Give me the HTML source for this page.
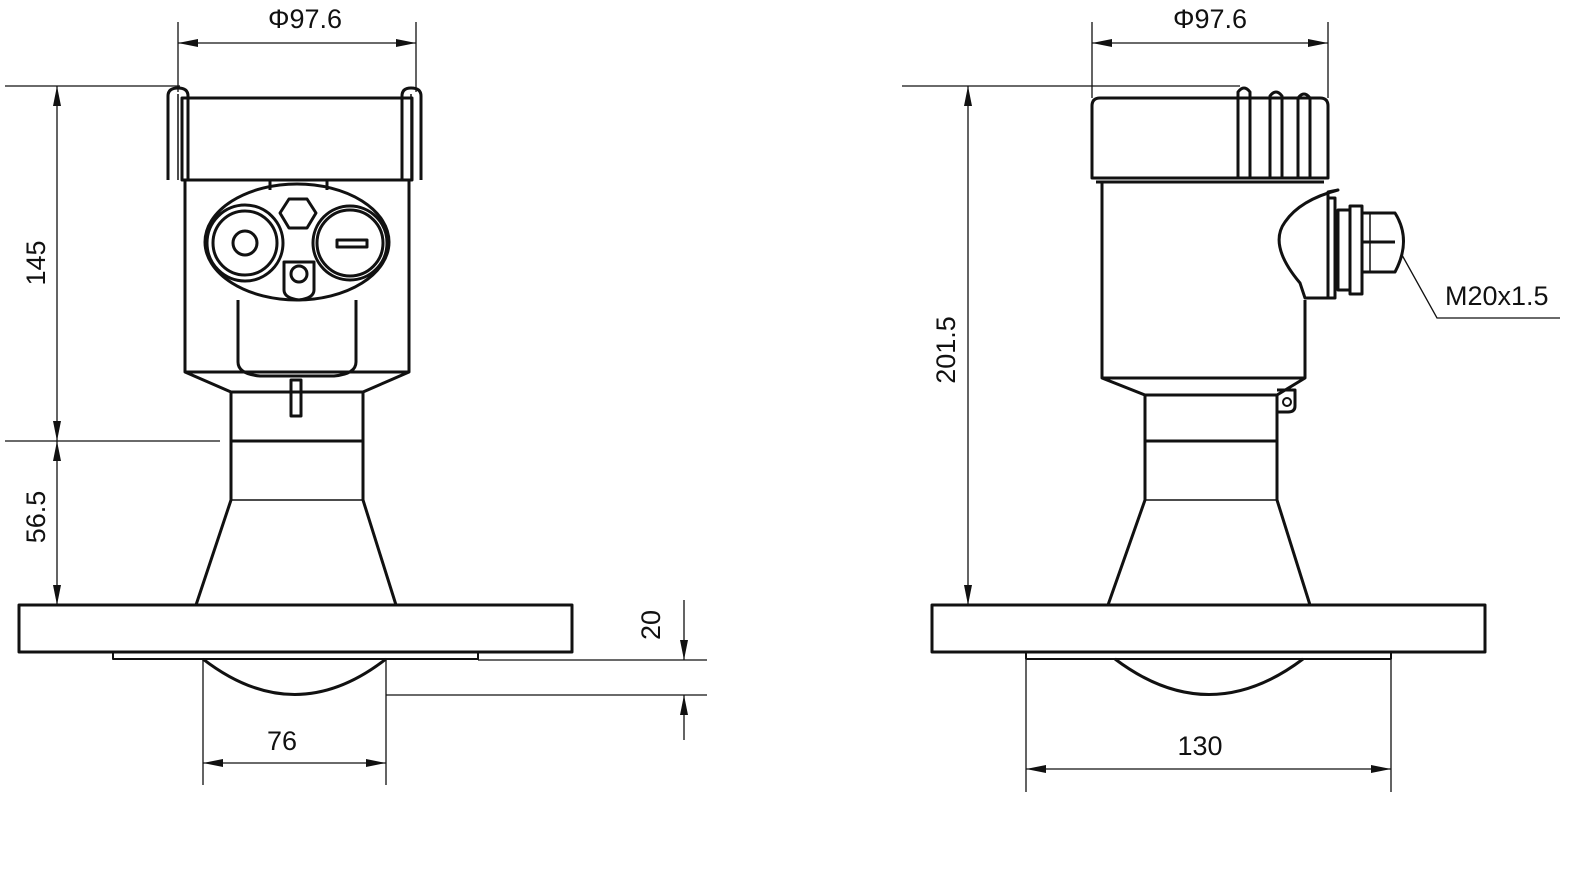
<!DOCTYPE html>
<html><head><meta charset="utf-8"><style>html,body{margin:0;padding:0;background:#fff}svg{display:block}text{font-family:"Liberation Sans",sans-serif;font-size:27px;fill:#111}</style></head>
<body>
<svg width="1586" height="872" viewBox="0 0 1586 872" xmlns="http://www.w3.org/2000/svg">
<defs>
<marker id="a" viewBox="0 0 20 8" refX="20" refY="4" markerWidth="20" markerHeight="8" orient="auto-start-reverse" markerUnits="userSpaceOnUse"><path d="M0,0 L20,4 L0,8 z" fill="#111"/></marker>
</defs>
<g fill="none" stroke="#111" stroke-width="1.3">
<line x1="178" y1="22" x2="178" y2="92"/><line x1="416" y1="22" x2="416" y2="92"/>
<line x1="178" y1="43" x2="416" y2="43" marker-start="url(#a)" marker-end="url(#a)"/>
<line x1="5" y1="86" x2="180" y2="86"/><line x1="5" y1="441" x2="220" y2="441"/>
<line x1="57" y1="86" x2="57" y2="441" marker-start="url(#a)" marker-end="url(#a)"/>
<line x1="57" y1="441" x2="57" y2="605" marker-start="url(#a)" marker-end="url(#a)"/>
<line x1="203" y1="660" x2="203" y2="785"/><line x1="386" y1="660" x2="386" y2="785"/>
<line x1="203" y1="763" x2="386" y2="763" marker-start="url(#a)" marker-end="url(#a)"/>
<line x1="478" y1="660" x2="707" y2="660"/><line x1="386" y1="695" x2="707" y2="695"/>
<line x1="684" y1="600" x2="684" y2="660" marker-end="url(#a)"/>
<line x1="684" y1="740" x2="684" y2="695" marker-end="url(#a)"/>
<line x1="1092" y1="22" x2="1092" y2="98"/><line x1="1328" y1="22" x2="1328" y2="98"/>
<line x1="1092" y1="43" x2="1328" y2="43" marker-start="url(#a)" marker-end="url(#a)"/>
<line x1="902" y1="86" x2="1240" y2="86"/>
<line x1="968" y1="86" x2="968" y2="605" marker-start="url(#a)" marker-end="url(#a)"/>
<line x1="1026" y1="660" x2="1026" y2="792"/><line x1="1391" y1="660" x2="1391" y2="792"/>
<line x1="1026" y1="769" x2="1391" y2="769" marker-start="url(#a)" marker-end="url(#a)"/>
<polyline points="1402,255 1437,318 1560,318"/>
</g>
<g fill="none" stroke="#111" stroke-width="3" stroke-linejoin="round">
<rect x="182" y="98" width="230" height="82"/>
<path d="M168,180 V96 Q168,88 178,88 Q188,88 188,96 V180"/>
<path d="M402,180 V96 Q402,88 411,88 Q421,88 421,96 V180"/>
<line x1="178" y1="94" x2="178" y2="180" stroke-width="1.5"/>
<line x1="411" y1="94" x2="411" y2="180" stroke-width="1.5"/>
<path d="M185,180 V372 L231,392 H363 L409,372 V180"/>
<line x1="185" y1="372" x2="409" y2="372"/>
<path d="M270,180 V190 M327,180 V190"/>
<ellipse cx="297" cy="242" rx="92" ry="58"/>
<circle cx="245" cy="243" r="38"/><circle cx="245" cy="243" r="32"/><circle cx="245" cy="243" r="12"/>
<circle cx="350" cy="243" r="37"/><circle cx="350" cy="243" r="33"/>
<rect x="337" y="240" width="30" height="7"/>
<polygon points="289,199 307,199 316,213 307,228 289,228 280,213"/>
<path d="M284,262 H314 V290 Q314,298 299,300 Q284,298 284,290 Z"/>
<circle cx="299" cy="274" r="8"/>
<path d="M238,300 V362 Q238,374 260,376 H334 Q356,374 356,362 V300"/>
<rect x="291" y="380" width="10" height="36"/>
<path d="M231,392 V500 L196,605 M363,392 V500 L396,605"/>
<line x1="231" y1="441" x2="363" y2="441"/>
<line x1="231" y1="500" x2="363" y2="500" stroke-width="1.5"/>
<rect x="19" y="605" width="553" height="47"/>
<rect x="113" y="652" width="365" height="7" stroke-width="2"/>
<path d="M203,659 Q295,730 386,659"/>
<path d="M1092,178 V106 Q1092,98 1100,98 H1320 Q1328,98 1328,106 V178 Z"/>
<path d="M1238,178 V92 Q1244,84 1250,92 V178"/>
<path d="M1270,178 V96 Q1276,88 1282,96 V178"/>
<path d="M1298,178 V98 Q1304,90 1310,98 V178"/>
<line x1="1096" y1="182" x2="1324" y2="182"/>
<path d="M1102,182 V378 L1145,395 H1277 L1305,378 V300"/>
<line x1="1102" y1="378" x2="1305" y2="378"/>
<path d="M1338,190 Q1300,200 1285,222 Q1268,245 1300,283 L1305,298 H1328 V192 Z"/>
<rect x="1328" y="198" width="7" height="100"/>
<rect x="1338" y="210" width="12" height="80"/>
<rect x="1350" y="206" width="12" height="88"/>
<path d="M1362,213 H1395 Q1412,240 1395,272 H1362 Z"/>
<line x1="1362" y1="242" x2="1395" y2="242"/>
<line x1="1370" y1="213" x2="1370" y2="272" stroke-width="1.5"/>
<path d="M1145,395 V500 L1108,605 M1277,395 V500 L1310,605"/>
<line x1="1145" y1="441" x2="1277" y2="441"/>
<line x1="1145" y1="500" x2="1277" y2="500" stroke-width="1.5"/>
<path d="M1277,390 H1295 V406 Q1295,412 1288,412 H1277"/>
<circle cx="1287" cy="402" r="4" stroke-width="2"/>
<rect x="932" y="605" width="553" height="47"/>
<rect x="1026" y="652" width="365" height="7" stroke-width="2"/>
<path d="M1115,659 Q1209,730 1303,659"/>
</g>
<text x="305" y="28" text-anchor="middle">Φ97.6</text>
<text x="1210" y="28" text-anchor="middle">Φ97.6</text>
<text x="282" y="750" text-anchor="middle">76</text>
<text x="1200" y="755" text-anchor="middle">130</text>
<text x="1445" y="305">M20x1.5</text>
<text transform="translate(45,263) rotate(-90)" text-anchor="middle">145</text>
<text transform="translate(45,517) rotate(-90)" text-anchor="middle">56.5</text>
<text transform="translate(660,625) rotate(-90)" text-anchor="middle">20</text>
<text transform="translate(955,350) rotate(-90)" text-anchor="middle">201.5</text>
</svg>
</body></html>
